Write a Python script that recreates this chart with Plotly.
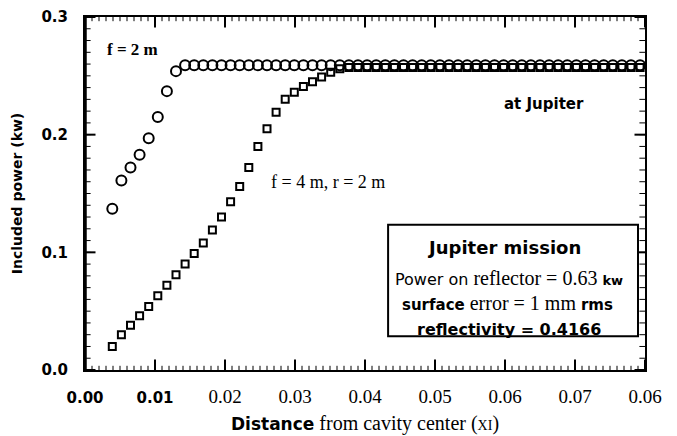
import plotly.graph_objects as go

x_vals = [0.0039, 0.0052, 0.0065, 0.0078, 0.0091, 0.0104, 0.0117, 0.0130, 0.0143, 0.0156,
          0.0169, 0.0182, 0.0195, 0.0208, 0.0221, 0.0234, 0.0247, 0.0260, 0.0273, 0.0286,
          0.0299, 0.0312, 0.0325, 0.0338, 0.0351, 0.0364, 0.0377, 0.0390, 0.0403, 0.0416,
          0.0429, 0.0442, 0.0455, 0.0468, 0.0481, 0.0494, 0.0507, 0.0520, 0.0533, 0.0546,
          0.0559, 0.0572, 0.0585, 0.0598, 0.0611, 0.0624, 0.0637, 0.0650, 0.0663, 0.0676,
          0.0689, 0.0702, 0.0715, 0.0728, 0.0741, 0.0754, 0.0767, 0.0780, 0.0793, 0.0806]

f2_power = [0.137, 0.161, 0.172, 0.183, 0.197, 0.215, 0.237, 0.254, 0.259, 0.259,
            0.259, 0.259, 0.259, 0.259, 0.259, 0.259, 0.259, 0.259, 0.259, 0.259,
            0.259, 0.259, 0.259, 0.259, 0.259, 0.259, 0.259, 0.259, 0.259, 0.259,
            0.259, 0.259, 0.259, 0.259, 0.259, 0.259, 0.259, 0.259, 0.259, 0.259,
            0.259, 0.259, 0.259, 0.259, 0.259, 0.259, 0.259, 0.259, 0.259, 0.259,
            0.259, 0.259, 0.259, 0.259, 0.259, 0.259, 0.259, 0.259, 0.259, 0.259]

f4_power = [0.020, 0.030, 0.038, 0.046, 0.054, 0.063, 0.072, 0.081, 0.090, 0.099,
            0.108, 0.119, 0.130, 0.143, 0.156, 0.172, 0.190, 0.205, 0.219, 0.230,
            0.236, 0.241, 0.245, 0.249, 0.253, 0.256, 0.257, 0.257, 0.257, 0.257,
            0.257, 0.257, 0.257, 0.257, 0.257, 0.257, 0.257, 0.257, 0.257, 0.257,
            0.257, 0.257, 0.257, 0.257, 0.257, 0.257, 0.257, 0.257, 0.257, 0.257,
            0.257, 0.257, 0.257, 0.257, 0.257, 0.257, 0.257, 0.257, 0.257, 0.257]

x_tickvals = [0.00, 0.01, 0.02, 0.03, 0.04, 0.05, 0.06, 0.07, 0.08]
x_ticklabels = ["0.00", "0.01", "0.02", "0.03", "0.04", "0.05", "0.06", "0.07", "0.06"]
y_tickvals = [0.0, 0.1, 0.2, 0.3]
y_ticklabels = ["0.0", "0.1", "0.2", "0.3"]

X_RANGE = [0, 0.08]
Y_RANGE = [0, 0.3]
# minor tick positions derived from the axis ranges (axis decoration only)
x_minor = [round(i * 0.001, 3) for i in range(81)]
y_minor = [round(i * 0.01, 2) for i in range(31)]

SANS = "DejaVu Sans"
SERIF = "Liberation Serif"

def sans_b(t, size=None):
    s = f"font-family:{SANS};font-weight:bold"
    if size:
        s += f";font-size:{size}px"
    return f"<span style='{s}'>{t}</span>"

x_text = [sans_b(t, 15) if i < 2 else t for i, t in enumerate(x_ticklabels)]

fig = go.Figure()
fig.add_trace(go.Scatter(
    x=x_vals, y=f4_power, mode="markers", cliponaxis=False,
    marker=dict(symbol="square-open", size=7, color="black", line=dict(width=2, color="black")),
    showlegend=False, name="f = 4 m, r = 2 m"))
fig.add_trace(go.Scatter(
    x=x_vals, y=f2_power, mode="markers", cliponaxis=False,
    marker=dict(symbol="circle-open", size=10, color="black", line=dict(width=2, color="black")),
    showlegend=False, name="f = 2 m"))


def tick_trace(xs, ys, symbol, size, width):
    # markers centred on the frame, clipped to the plot area -> inward-pointing ticks
    return go.Scatter(x=xs, y=ys, mode="markers", cliponaxis=True, hoverinfo="skip",
                      showlegend=False,
                      marker=dict(symbol=symbol, size=size, color="black",
                                  line=dict(width=width, color="black")))


for yv in Y_RANGE:
    fig.add_trace(tick_trace(x_minor, [yv] * len(x_minor), "line-ns", 6, 1))
    fig.add_trace(tick_trace(x_tickvals, [yv] * len(x_tickvals), "line-ns", 15, 2))
for xv in X_RANGE:
    fig.add_trace(tick_trace([xv] * len(y_minor), y_minor, "line-ew", 8, 1))
    fig.add_trace(tick_trace([xv] * len(y_tickvals), y_tickvals, "line-ew", 15, 2))

common = dict(showgrid=False, zeroline=False, automargin=False, ticklabeloverflow="allow")

fig.update_layout(
    width=677, height=436,
    margin=dict(l=77, r=40, t=9, b=74),
    paper_bgcolor="white", plot_bgcolor="white",
    font=dict(family=SERIF, color="black", size=15),
    xaxis=dict(range=X_RANGE, tickmode="array", tickvals=x_tickvals, ticktext=x_text,
               showline=True, linecolor="black", linewidth=2, mirror=True, ticks="",
               ticklabelstandoff=8,
               tickfont=dict(family=SERIF, size=19),
               title=dict(text=sans_b("Distance", 17) + " from cavity center (<span style='font-size:14px'>XI</span>)",
                          font=dict(family=SERIF, size=20), standoff=10), **common),
    yaxis=dict(range=Y_RANGE, tickmode="array", tickvals=y_tickvals, ticktext=y_ticklabels,
               showline=True, linecolor="black", linewidth=2, mirror=True, ticks="",
               ticklabelstandoff=12,
               tickfont=dict(family=SANS, size=15, weight="bold"),
               title=dict(text="Included power (kw)", font=dict(family=SANS, size=14, weight="bold"),
                          standoff=16), **common),
)

fig.add_shape(type="line", xref="x", yref="y", x0=0, x1=0, y0=0, y1=0.3,
              line=dict(color="black", width=3.5))

fig.add_annotation(x=0.0028, y=0.272, xref="x", yref="y", text="f = 2 m", showarrow=False,
                   xanchor="left", yanchor="middle", font=dict(family=SERIF, size=17, weight="bold"))
fig.add_annotation(x=0.0263, y=0.160, xref="x", yref="y", text="f = 4 m, r = 2 m", showarrow=False,
                   xanchor="left", yanchor="middle", font=dict(family=SERIF, size=18))
fig.add_annotation(x=0.0596, y=0.2257, xref="x", yref="y", text="at Jupiter", showarrow=False,
                   xanchor="left", yanchor="middle", font=dict(family=SANS, size=15, weight="bold"))

fig.add_shape(type="rect", xref="x", yref="y", x0=0.0433, x1=0.0790, y0=0.0287, y1=0.1234,
              line=dict(color="black", width=2), fillcolor="white", layer="above")

box_lines = [
    (0.1040, "<b>Jupiter mission</b>", dict(family=SANS, size=18), 0.0599),
    (0.0786, "<span style='font-family:" + SANS + ";font-size:16px'>Power on</span> reflector = 0.63 "
     + sans_b("kw", 13), dict(family=SERIF, size=20), 0.0606),
    (0.0566, sans_b("surface", 15) + " error = 1 mm " + sans_b("rms", 15), dict(family=SERIF, size=20), 0.0603),
    (0.0346, "<b>reflectivity = 0.4166</b>", dict(family=SANS, size=16), 0.0606),
]
for yv, txt, fnt, xv in box_lines:
    fig.add_annotation(x=xv, y=yv, xref="x", yref="y", text=txt, showarrow=False,
                       xanchor="center", yanchor="middle", font=fnt)

fig.write_html("out.html")
